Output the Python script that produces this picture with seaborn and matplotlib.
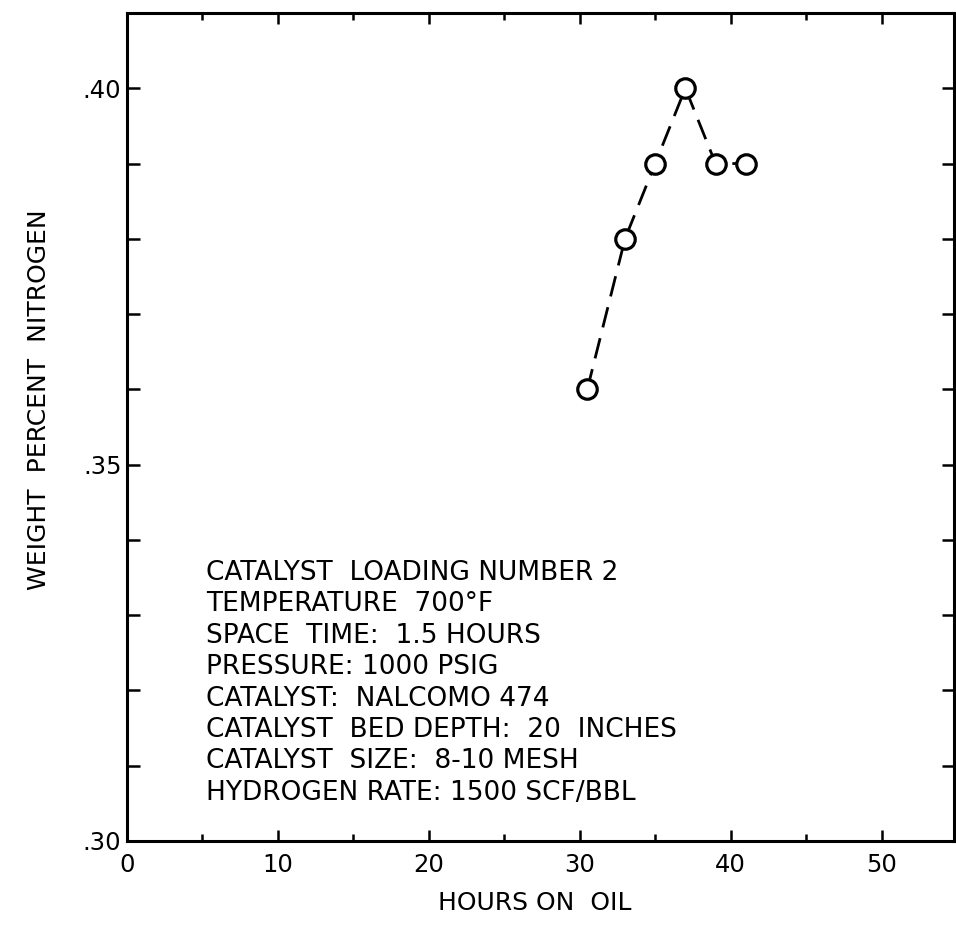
import matplotlib
matplotlib.use("Agg")
import matplotlib.pyplot as plt
import seaborn as sns
import pandas as pd
from matplotlib.ticker import FixedLocator, MultipleLocator

# ---- data ----
hours_on_oil = [30.5, 33, 35, 37, 39, 41]
weight_pct_nitrogen = [0.36, 0.38, 0.39, 0.40, 0.39, 0.39]

x_ticks = [0, 10, 20, 30, 40, 50]
x_tick_labels = ["0", "10", "20", "30", "40", "50"]
y_ticks = [0.30, 0.35, 0.40]
y_tick_labels = [".30", ".35", ".40"]

notes = [
    "CATALYST  LOADING NUMBER 2",
    "TEMPERATURE  700°F",
    "SPACE  TIME:  1.5 HOURS",
    "PRESSURE: 1000 PSIG",
    "CATALYST:  NALCOMO 474",
    "CATALYST  BED DEPTH:  20  INCHES",
    "CATALYST  SIZE:  8-10 MESH",
    "HYDROGEN RATE: 1500 SCF/BBL",
]

df = pd.DataFrame({"hours": hours_on_oil, "nitrogen": weight_pct_nitrogen})

sns.set_style("ticks")
plt.rcParams["font.family"] = ["DejaVu Sans"]
plt.rcParams["text.color"] = "black"
plt.rcParams["axes.labelcolor"] = "black"

fig = plt.figure(figsize=(9.56, 9.31), dpi=100)
W, H = 956, 931
ax_l, ax_r, ax_t, ax_b = 127, 954, 13, 841
ax = fig.add_axes([ax_l / W, (H - ax_b) / H, (ax_r - ax_l) / W, (ax_b - ax_t) / H])

sns.lineplot(
    data=df, x="hours", y="nitrogen", ax=ax, sort=False,
    color="black", linewidth=2.0, linestyle=(0, (7.5, 4)),
    marker="o", markersize=14, markerfacecolor="white",
    markeredgecolor="black", markeredgewidth=2.3,
)

ax.set_xlim(0, 54.8)
ax.set_ylim(0.30, 0.41)

ax.xaxis.set_major_locator(FixedLocator(x_ticks))
ax.set_xticklabels(x_tick_labels)
ax.xaxis.set_minor_locator(MultipleLocator(5))
ax.yaxis.set_major_locator(FixedLocator(y_ticks))
ax.set_yticklabels(y_tick_labels)
ax.yaxis.set_minor_locator(MultipleLocator(0.01))

for s in ax.spines.values():
    s.set_visible(True)
    s.set_linewidth(2.2)
    s.set_color("black")

ax.tick_params(axis="both", which="both", direction="in", top=True, right=True,
               width=1.8, color="black", labelsize=17.5, labelcolor="black")
ax.tick_params(axis="x", which="major", length=8, pad=9)
ax.tick_params(axis="x", which="minor", length=5)
ax.tick_params(axis="y", which="both", length=9, pad=4)

ax.set_xlabel("HOURS ON  OIL", fontsize=18, color="black")
ax.set_ylabel("WEIGHT  PERCENT  NITROGEN", fontsize=18, color="black")
ax.xaxis.set_label_coords(0.493, -0.075)
ax.xaxis.label.set_va("center")
ax.yaxis.set_label_coords(-0.107, 0.533)
ax.yaxis.label.set_va("center")

y0, dy = 573, 31.4
for i, line in enumerate(notes):
    fig.text(206 / W, 1 - (y0 + i * dy) / H, line, fontsize=19,
             ha="left", va="center", color="black")

ax.set_facecolor("white")
fig.patch.set_facecolor("white")
fig.savefig("out.png", dpi=100, facecolor="white")
